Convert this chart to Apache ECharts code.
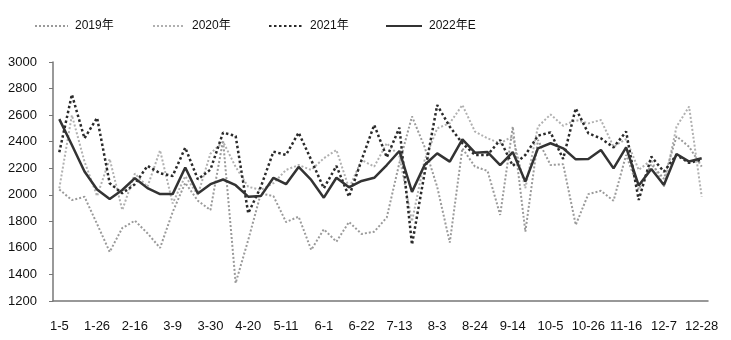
<!DOCTYPE html>
<html>
<head>
<meta charset="utf-8">
<script src="https://cdn.jsdelivr.net/npm/echarts@6/dist/echarts.min.js"></script>
<style>
  html, body { margin: 0; padding: 0; background: #fff; }
  #chart { width: 731px; height: 340px; }
</style>
</head>
<body>
<div id="chart"></div>
<script>
// Weekly dates (Mon) across the year
const weeks = ['1-5','1-12','1-19','1-26','2-2','2-9','2-16','2-23','3-2','3-9','3-16','3-23','3-30',
  '4-6','4-13','4-20','4-27','5-4','5-11','5-18','5-25','6-1','6-8','6-15','6-22','6-29','7-6','7-13',
  '7-20','7-27','8-3','8-10','8-17','8-24','8-31','9-7','9-14','9-21','9-28','10-5','10-12','10-19',
  '10-26','11-2','11-9','11-16','11-23','11-30','12-7','12-14','12-21','12-28'];

const y2019 = [2040,1960,1985,1780,1570,1750,1805,1710,1600,1870,2090,1955,1885,2410,1335,1660,2010,1990,
  1795,1835,1585,1740,1647,1795,1705,1722,1830,2240,2590,2360,2060,1640,2350,2212,2180,1848,2513,1722,
  2413,2224,2230,1773,2005,2030,1955,2300,2040,2230,2120,2440,2362,2212];

const y2020 = [2049,2600,2250,1990,2270,1885,2160,2060,2335,1935,2140,2000,2310,2400,2210,2060,2036,2087,
  2187,2224,2187,2275,2337,2049,2262,2212,2388,2290,1800,2260,2500,2540,2676,2476,2425,2388,2440,2050,
  2513,2605,2520,2563,2538,2563,2362,2420,2187,2262,2061,2513,2664,1986];

const y2021 = [2320,2755,2425,2580,2087,2011,2080,2218,2162,2142,2355,2116,2190,2468,2443,1861,2060,2325,
  2300,2468,2262,2049,2217,1986,2262,2526,2282,2505,1625,2162,2676,2513,2388,2300,2300,2413,2218,2300,
  2445,2470,2270,2651,2463,2425,2357,2476,1961,2287,2174,2300,2240,2265];

const y2022 = [2570,2375,2175,2040,1968,2036,2125,2050,2005,2005,2205,2010,2080,2115,2072,1986,1990,2128,
  2080,2210,2112,1978,2128,2056,2104,2128,2224,2330,2022,2224,2312,2250,2418,2317,2322,2224,2322,2099,
  2350,2388,2350,2267,2270,2337,2199,2357,2069,2194,2074,2307,2250,2275];

const yTicks = { min: 1200, max: 3000, step: 200 };

const FONT = '"Liberation Sans", "Noto Sans CJK SC", sans-serif';

const chart = echarts.init(document.getElementById('chart'), null, { renderer: 'canvas' });

// one legend per entry so each sits at its own spot along the top
function legendAt(name, left, width) {
  return {
    data: [name], left: left, top: 20, padding: 0, itemWidth: width, itemHeight: 10, itemGap: 0,
    itemStyle: { opacity: 0 },
    textStyle: { fontFamily: FONT, fontSize: 12, color: '#111', padding: [0, 0, 0, 2] }
  };
}

function lineSeries(name, data, color, width, dash, z) {
  return {
    name: name, type: 'line', data: data, symbol: 'none', smooth: false, z: z,
    lineStyle: { color: color, width: width, type: dash },
    itemStyle: { color: color },
    emphasis: { disabled: true }
  };
}

chart.setOption({
  animation: false,
  backgroundColor: '#fff',
  legend: [
    legendAt('2019年', 34, 33),
    legendAt('2020年', 152, 32),
    legendAt('2021年', 268, 34),
    legendAt('2022年E', 385, 36)
  ],
  grid: { left: 53, right: 23, top: 62, bottom: 39, containLabel: false },
  xAxis: {
    type: 'category', data: weeks, boundaryGap: true,
    axisLine: { lineStyle: { color: '#777', width: 1.5 } },
    axisTick: { show: false },
    axisLabel: { interval: 2, margin: 19, fontFamily: FONT, fontSize: 13, color: '#111' },
    splitLine: { show: false }
  },
  yAxis: {
    type: 'value', min: yTicks.min, max: yTicks.max, interval: yTicks.step,
    axisLine: { show: true, lineStyle: { color: '#777', width: 1.5 } },
    axisTick: { show: true, length: 4, lineStyle: { color: '#777' } },
    axisLabel: { margin: 16, fontFamily: FONT, fontSize: 13, color: '#111',
      formatter: v => String(v) },
    splitLine: { show: false }
  },
  series: [
    lineSeries('2019年', y2019, '#9a9a9a', 2, [2, 2], 2),
    lineSeries('2020年', y2020, '#b0b0b0', 2, [2, 2], 1),
    lineSeries('2021年', y2021, '#2a2a2a', 2.5, [2.5, 2.5], 3),
    lineSeries('2022年E', y2022, '#333333', 2.5, 'solid', 4)
  ]
});
</script>
</body>
</html>
